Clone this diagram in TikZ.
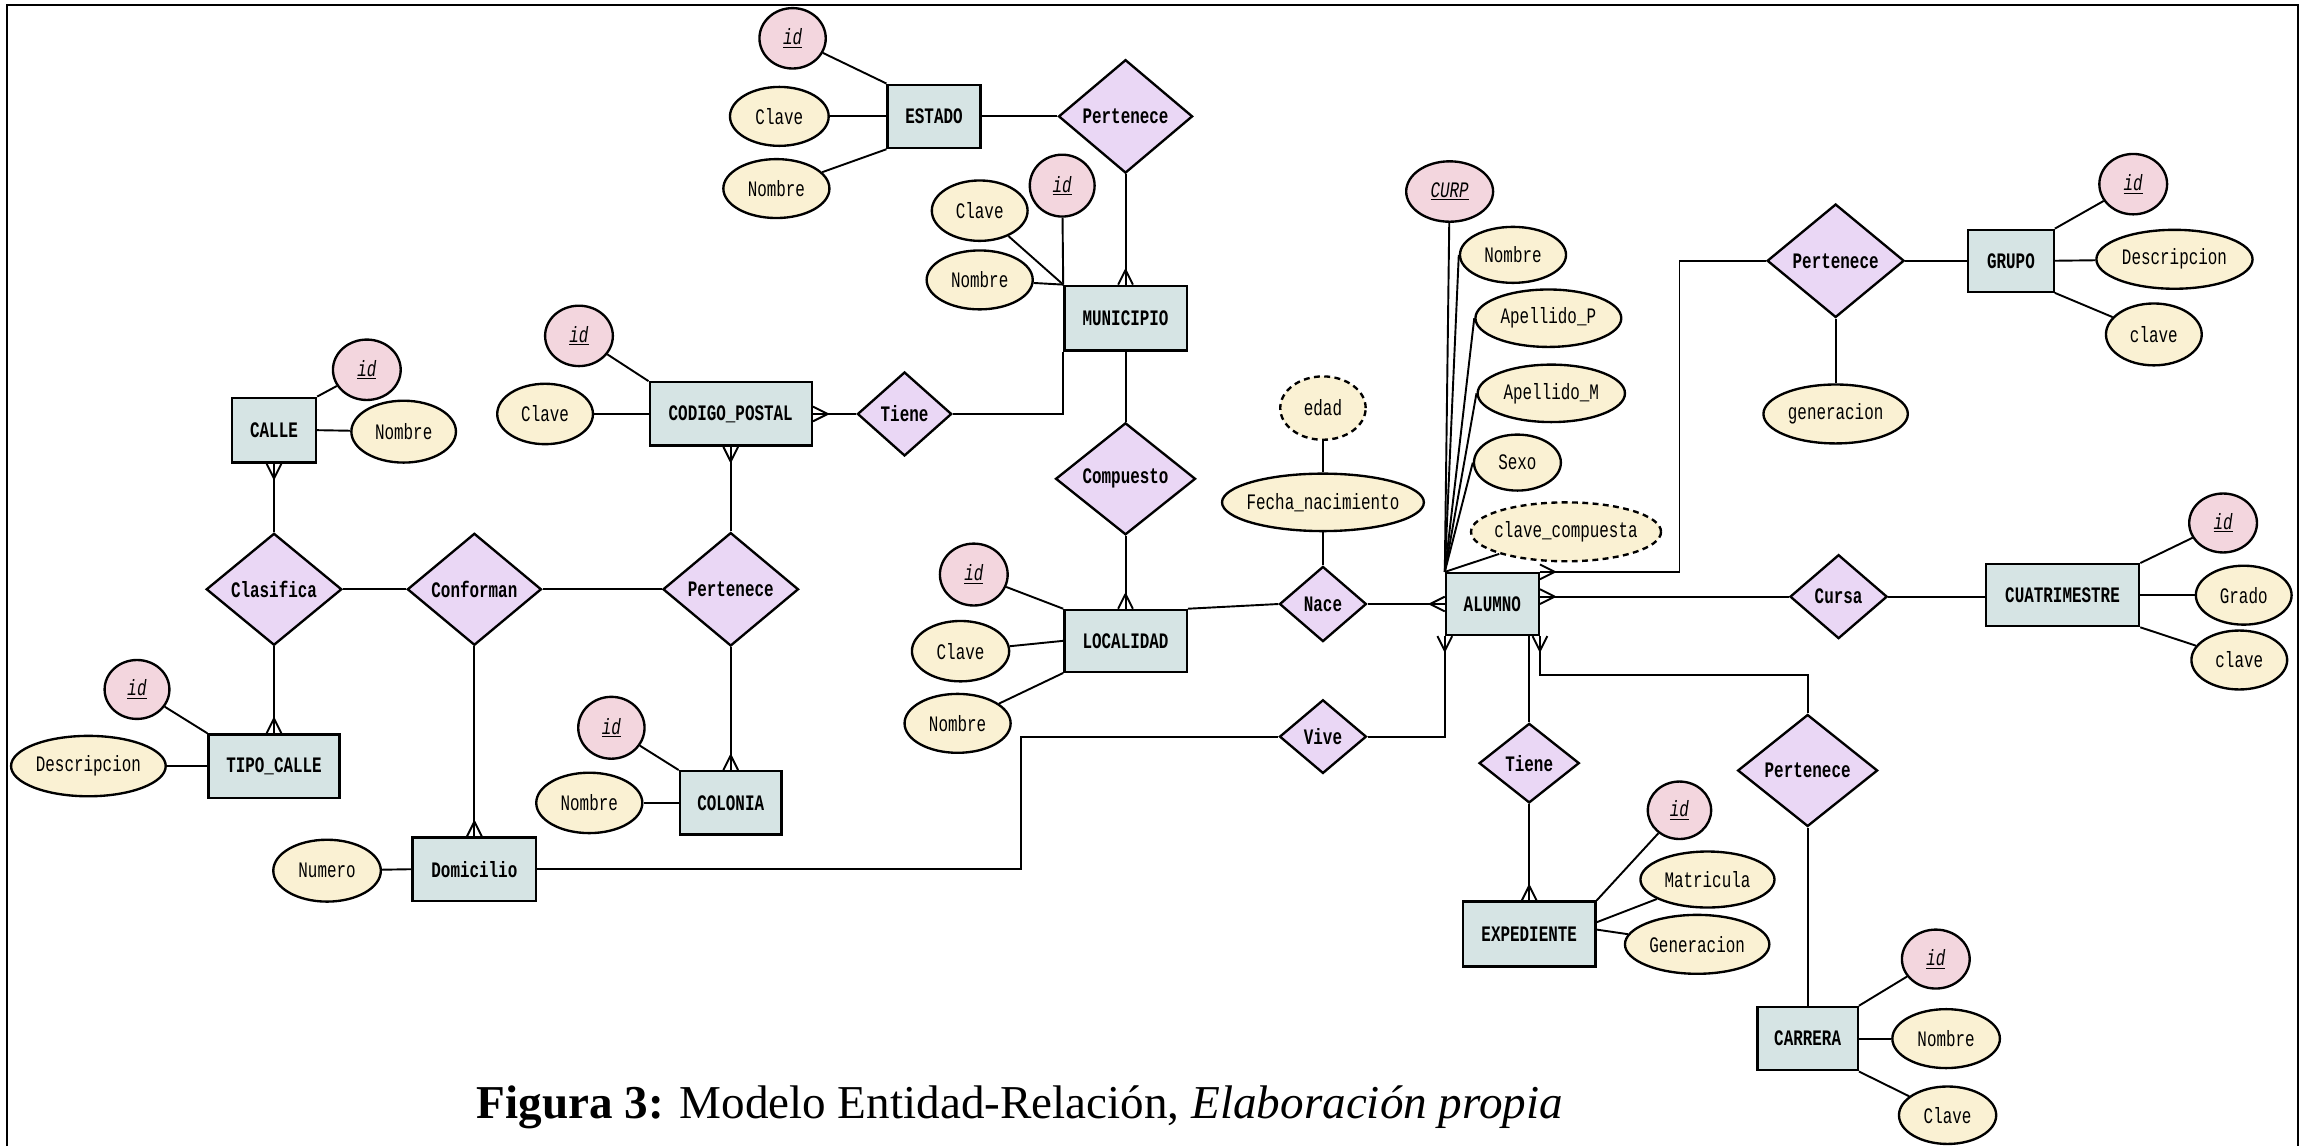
\documentclass[tikz,border=0pt]{standalone}
\usepackage{fontspec}
\setmainfont{Liberation Serif}
\newfontfamily\erfont[FakeStretch=0.72]{Liberation Mono}
\usepackage{tikz}
\usetikzlibrary{shapes.geometric, calc}
\usepackage{xcolor}
\definecolor{entfill}{RGB}{214,228,228}
\definecolor{relfill}{RGB}{234,215,245}
\definecolor{attfill}{RGB}{250,241,211}
\definecolor{keyfill}{RGB}{243,214,222}
\newcommand{\ertext}{\erfont\fontsize{15}{17}\selectfont}
\newcommand{\keytext}[1]{\underline{\textit{#1}}}
% crow's foot at the box end of a connector: #1 point on the box, #2 direction away from the box
\newcommand{\crowfoot}[2]{%
  \draw[line width=1.3pt] ($(#1)+(#2:10pt)$) -- ($(#1)+(#2+90:5pt)$)
                          ($(#1)+(#2:10pt)$) -- ($(#1)+(#2-90:5pt)$);}

\begin{document}
\begin{tikzpicture}[x=1pt,y=-1pt]
        \tikzstyle{entity}=[rectangle,draw,line width=1.6pt,fill=entfill,minimum height=43pt,inner sep=0pt,font=\ertext\bfseries]
        \tikzstyle{relation}=[diamond,draw,line width=1.6pt,fill=relfill,inner sep=0pt,font=\ertext\bfseries]
        \tikzstyle{attrib}=[ellipse,draw,line width=1.6pt,fill=attfill,minimum height=40pt,inner sep=0pt,font=\ertext]
        \tikzstyle{keyattr}=[attrib,fill=keyfill,minimum width=45pt,minimum height=41pt]
        \tikzstyle{derived}=[attrib,dash pattern=on 4pt off 3pt]
        \tikzstyle{conn}=[line width=1.3pt]
        \useasboundingbox (0,0) rectangle (1568,778);
        % frame
        \draw[line width=1.4pt] (5,778) -- (5,3.5) -- (1560,3.5) -- (1560,778);

        % ESTADO
        \node[entity,minimum width=63pt] (estado) at (634,79) {ESTADO};
        \node[keyattr] (idEst) at (538,26) {\keytext{id}};
        \node[attrib,minimum width=67pt] (claveEst) at (529,79) {Clave};
        \node[attrib,minimum width=72pt] (nombreEst) at (527,128) {Nombre};
        \node[relation,minimum width=91pt,minimum height=77pt] (pertEst) at (764,79) {Pertenece};

        % MUNICIPIO
        \node[entity,minimum width=83pt,minimum height=44pt] (municipio) at (764,216) {MUNICIPIO};
        \node[keyattr,minimum width=44pt,minimum height=42pt] (idMun) at (721,126) {\keytext{id}};
        \node[attrib,minimum width=65pt,minimum height=41pt] (claveMun) at (665,143) {Clave};
        \node[attrib,minimum width=72pt] (nombreMun) at (665,190) {Nombre};
        \node[relation,minimum width=64pt,minimum height=57pt] (tieneCP) at (614,281) {Tiene};
        \node[relation,minimum width=95pt,minimum height=76pt] (compuesto) at (764,325) {Compuesto};

        % CODIGO_POSTAL
        \node[entity,minimum width=110pt] (codpostal) at (496,281) {CODIGO\_POSTAL};
        \node[keyattr,minimum width=46pt] (idCP) at (393,228) {\keytext{id}};
        \node[attrib,minimum width=65pt,minimum height=41pt] (claveCP) at (370,281) {Clave};

        % CALLE
        \node[entity,minimum width=57pt,minimum height=44pt] (calle) at (186,292) {CALLE};
        \node[keyattr,minimum width=46pt] (idCalle) at (249,251) {\keytext{id}};
        \node[attrib,minimum width=71pt,minimum height=42pt] (nombreCalle) at (274,293) {Nombre};

        % relations of the street block
        \node[relation,minimum width=92pt,minimum height=76pt] (clasifica) at (186,400) {Clasifica};
        \node[relation,minimum width=91pt,minimum height=76pt] (conforman) at (322,400) {Conforman};
        \node[relation,minimum width=92pt,minimum height=77pt] (pertCol) at (496,400) {Pertenece};

        % TIPO_CALLE
        \node[entity,minimum width=89pt] (tipocalle) at (186,520) {TIPO\_CALLE};
        \node[keyattr,minimum width=44pt,minimum height=40pt] (idTipo) at (93,468) {\keytext{id}};
        \node[attrib,minimum width=105pt,minimum height=41pt] (descTipo) at (60,520) {Descripcion};

        % COLONIA
        \node[entity,minimum width=69pt] (colonia) at (496,545) {COLONIA};
        \node[keyattr,minimum height=42pt] (idCol) at (415,494) {\keytext{id}};
        \node[attrib,minimum width=72pt,minimum height=41pt] (nombreCol) at (400,545) {Nombre};

        % Domicilio
        \node[entity,minimum width=84pt] (domicilio) at (322,590) {Domicilio};
        \node[attrib,minimum width=73pt,minimum height=42pt] (numero) at (222,591) {Numero};

        % LOCALIDAD
        \node[entity,minimum width=83pt,minimum height=42pt] (localidad) at (764,435) {LOCALIDAD};
        \node[keyattr,minimum width=46pt,minimum height=42pt] (idLoc) at (661,390) {\keytext{id}};
        \node[attrib,minimum width=66pt,minimum height=41pt] (claveLoc) at (652,442) {Clave};
        \node[attrib,minimum width=72pt] (nombreLoc) at (650,491) {Nombre};

        % Nace / Vive
        \node[relation,minimum width=59pt,minimum height=51pt] (nace) at (898,410) {Nace};
        \node[attrib,minimum width=137pt,minimum height=39pt,inner xsep=-6pt] (fecha) at (898,341) {Fecha\_nacimiento};
        \node[derived,minimum width=58pt,minimum height=43pt] (edad) at (898,277) {edad};
        \node[relation,minimum width=59pt,minimum height=50pt] (vive) at (898,500) {Vive};

        % ALUMNO
        \node[entity,minimum width=63pt,minimum height=42pt] (alumno) at (1013,410) {ALUMNO};
        \node[keyattr,minimum width=59pt] (curp) at (984,130) {\keytext{CURP}};
        \node[attrib,minimum width=72pt,minimum height=38pt] (nombreAl) at (1027,173) {Nombre};
        \node[attrib,minimum width=99pt,minimum height=39pt] (apellidoP) at (1051,216) {Apellido\_P};
        \node[attrib,minimum width=100pt,minimum height=39pt] (apellidoM) at (1053,267) {Apellido\_M};
        \node[attrib,minimum width=59pt,minimum height=38pt] (sexo) at (1030,314) {Sexo};
        \node[derived,minimum width=129pt,inner xsep=-4pt] (claveComp) at (1063,361) {clave\_compuesta};

        % GRUPO
        \node[relation,minimum width=93pt,minimum height=77pt] (pertGrupo) at (1246,177) {Pertenece};
        \node[attrib,minimum width=98pt] (generacion) at (1246,281) {generacion};
        \node[entity,minimum width=58pt,minimum height=42pt] (grupo) at (1365,177) {GRUPO};
        \node[keyattr,minimum width=46pt] (idGrupo) at (1448,125) {\keytext{id}};
        \node[attrib,minimum width=106pt] (descGrupo) at (1476,176) {Descripcion};
        \node[attrib,minimum width=65pt,minimum height=42pt] (claveGrupo) at (1462,227) {clave};

        % CUATRIMESTRE
        \node[relation,minimum width=66pt,minimum height=57pt] (cursa) at (1248,405) {Cursa};
        \node[entity,minimum width=104pt,minimum height=42pt] (cuatri) at (1400,404) {CUATRIMESTRE};
        \node[keyattr,minimum width=46pt,minimum height=40pt] (idCuatri) at (1509,355) {\keytext{id}};
        \node[attrib,minimum width=65pt] (grado) at (1523,404) {Grado};
        \node[attrib,minimum width=65pt] (claveCuatri) at (1520,448) {clave};

        % EXPEDIENTE
        \node[relation,minimum width=68pt,minimum height=54pt] (tieneExp) at (1038,518) {Tiene};
        \node[entity,minimum width=90pt,minimum height=44pt] (expediente) at (1038,634) {EXPEDIENTE};
        \node[keyattr,minimum width=43pt,minimum height=39pt] (idExp) at (1140,550) {\keytext{id}};
        \node[attrib,minimum width=91pt,minimum height=38pt] (matricula) at (1159,597) {Matricula};
        \node[attrib,minimum width=98pt] (genExp) at (1152,641) {Generacion};

        % CARRERA
        \node[relation,minimum width=95pt,minimum height=76pt] (pertCarrera) at (1227,523) {Pertenece};
        \node[entity,minimum width=68pt] (carrera) at (1227,705) {CARRERA};
        \node[keyattr,minimum width=46pt,minimum height=40pt] (idCarrera) at (1314,651) {\keytext{id}};
        \node[attrib,minimum width=73pt] (nombreCarrera) at (1321,705) {Nombre};
        \node[attrib,minimum width=66pt,minimum height=39pt] (claveCarrera) at (1322,757) {Clave};

        % bends of the long connectors
        \coordinate (domBend) at (693,500);
        \coordinate (grupoBend) at (1140,177);
        \coordinate (carreraBend) at (1227,458);
        \coordinate (aluCursa) at (cursa.west -| alumno.east);

        % attribute lines
        \draw[conn] (idEst) -- (estado.north west);
        \draw[conn] (claveEst) -- (estado.west);
        \draw[conn] (nombreEst) -- (estado.south west);
        \draw[conn] (idMun) -- (municipio.north west);
        \draw[conn] (claveMun) -- (municipio.north west);
        \draw[conn] (nombreMun) -- (municipio.north west);
        \draw[conn] (idCP) -- (codpostal.north west);
        \draw[conn] (claveCP) -- (codpostal.west);
        \draw[conn] (idCalle) -- (calle.north east);
        \draw[conn] (nombreCalle) -- (calle.east);
        \draw[conn] (idTipo) -- (tipocalle.north west);
        \draw[conn] (descTipo) -- (tipocalle.west);
        \draw[conn] (idCol) -- (colonia.north west);
        \draw[conn] (nombreCol) -- (colonia.west);
        \draw[conn] (numero) -- (domicilio.west);
        \draw[conn] (idLoc) -- (localidad.north west);
        \draw[conn] (claveLoc) -- (localidad.west);
        \draw[conn] (nombreLoc) -- (localidad.south west);
        \draw[conn] (curp) -- (alumno.north west);
        \draw[conn] (nombreAl.west) -- (alumno.north west);
        \draw[conn] (apellidoP.west) -- (alumno.north west);
        \draw[conn] (apellidoM.west) -- (alumno.north west);
        \draw[conn] (sexo.west) -- (alumno.north west);
        \draw[conn] (claveComp) -- (alumno.north west);
        \draw[conn] (nace) -- (fecha) -- (edad);
        \draw[conn] (idGrupo) -- (grupo.north east);
        \draw[conn] (descGrupo) -- (grupo.east);
        \draw[conn] (claveGrupo) -- (grupo.south east);
        \draw[conn] (pertGrupo) -- (generacion);
        \draw[conn] (idCuatri) -- (cuatri.north east);
        \draw[conn] (grado) -- (cuatri.east);
        \draw[conn] (claveCuatri) -- (cuatri.south east);
        \draw[conn] (idExp) -- (expediente.north east);
        \draw[conn] (matricula) -- ([yshift=8pt]expediente.east);
        \draw[conn] (genExp) -- ([yshift=3pt]expediente.east);
        \draw[conn] (idCarrera) -- (carrera.north east);
        \draw[conn] (nombreCarrera) -- (carrera.east);
        \draw[conn] (claveCarrera) -- (carrera.south east);

        % relationship lines
        \draw[conn] (estado) -- (pertEst) -- (municipio);
        \draw[conn] (municipio) -- (compuesto) -- (localidad);
        \draw[conn] (municipio.south west) |- (tieneCP.east);
        \draw[conn] (tieneCP) -- (codpostal);
        \draw[conn] (codpostal) -- (pertCol) -- (colonia);
        \draw[conn] (calle) -- (clasifica) -- (tipocalle);
        \draw[conn] (clasifica) -- (conforman) -- (pertCol);
        \draw[conn] (conforman) -- (domicilio);
        \draw[conn] (domicilio.east) -| (domBend) -- (vive.west);
        \draw[conn] (vive.east) -| (alumno.south west);
        \draw[conn] (localidad.north east) -- (nace.west);
        \draw[conn] (nace) -- (alumno);
        \draw[conn] (alumno.north east) -| (grupoBend) -- (pertGrupo.west);
        \draw[conn] (pertGrupo) -- (grupo);
        \draw[conn] (aluCursa) -- (cursa.west);
        \draw[conn] (cursa.east) -- (cursa.east -| cuatri.west);
        \draw[conn] (tieneExp.north |- alumno.south) -- (tieneExp) -- (expediente);
        \draw[conn] (alumno.south east) |- (carreraBend) -- (pertCarrera.north);
        \draw[conn] (pertCarrera) -- (carrera);

        % crow's feet
        \crowfoot{municipio.north}{90}
        \crowfoot{codpostal.east}{0}
        \crowfoot{codpostal.south}{-90}
        \crowfoot{calle.south}{-90}
        \crowfoot{tipocalle.north}{90}
        \crowfoot{domicilio.north}{90}
        \crowfoot{colonia.north}{90}
        \crowfoot{localidad.north}{90}
        \crowfoot{alumno.west}{180}
        \crowfoot{alumno.south west}{-90}
        \crowfoot{alumno.north east}{0}
        \crowfoot{aluCursa}{0}
        \crowfoot{alumno.south east}{-90}
        \crowfoot{expediente.north}{90}

        % caption
        \node[anchor=base west,font=\fontsize{32}{38}\selectfont] (caption) at (320,759)
            {\textbf{Figura 3:} Modelo Entidad-Relación, \textit{Elaboración propia}};
    \end{tikzpicture}
\end{document}
